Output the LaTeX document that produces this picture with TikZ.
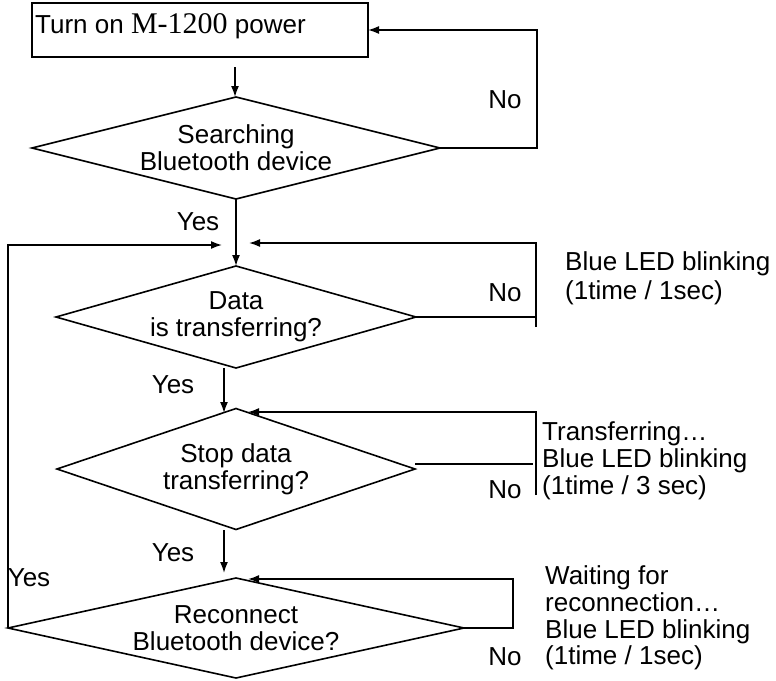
\documentclass[tikz,border=0pt]{standalone}
\usepackage{fontspec}
\setmainfont{Liberation Sans}
\newfontfamily\seriffont{Liberation Serif}
\usetikzlibrary{shapes.geometric,arrows.meta,calc}
\begin{document}
\begin{tikzpicture}[x=1pt,y=-1pt,
  lw/.style={line width=1.6pt},
  arr/.style={lw,-{Latex[length=11pt,width=8pt]}},
  dia/.style={diamond,draw,lw,inner sep=0pt,outer sep=0pt,align=center,font=\fontsize{26}{27}\selectfont},
  lbl/.style={inner sep=0pt,font=\fontsize{26}{27}\selectfont},
  side/.style={inner sep=0pt,anchor=west,align=left,font=\fontsize{26}{28}\selectfont}]
\useasboundingbox (0,0) rectangle (776,680);
% start box
\node[draw,lw,minimum width=336pt,minimum height=54pt,inner sep=0pt,outer sep=0pt] (box) at (200,30) {};
\node[lbl,anchor=base west] (boxtxt) at (35,33) {Turn on {\seriffont\fontsize{30}{30}\selectfont M-1200} power};
% decisions
\node[dia,aspect=4,minimum width=408pt,minimum height=102pt] (d1) at (236,148) {Searching\\Bluetooth device};
\node[dia,aspect=3.53,minimum width=360pt,minimum height=102pt] (d2) at (236,317) {Data\\is transferring?};
\node[dia,aspect=2.96,minimum width=358pt,minimum height=121pt] (d3) at (236,469) {Stop data\\transferring?};
\node[dia,aspect=4.56,minimum width=456pt,minimum height=100pt] (d4) at (236,628) {Reconnect\\Bluetooth device?};
% coordinates
\coordinate (a1) at (235,67);
\coordinate (r1) at (537,148);
\coordinate (l4) at (8,245);
\coordinate (tipL) at (222,245);
\coordinate (r2t) at (536,243);
\coordinate (r2e) at (536,327);
\coordinate (tip2) at (249,243);
\coordinate (s2) at (224,368);
\coordinate (e3) at (224,413);
\coordinate (r3t) at (536,412);
\coordinate (r3b) at (536,495);
\coordinate (tip3) at (248,412);
\coordinate (s3) at (224,530);
\coordinate (e4) at (224,573);
\coordinate (r4) at (513,628);
\coordinate (r4t) at (513,579);
\coordinate (tip4) at (248,579);
% connectors
\draw[arr] (a1) -- (a1 |- d1.north);
\draw[arr] (d1.east) -- (r1) |- (box.east);
\draw[arr] (d1.south) -- (d2.north);
\draw[arr] (d4.west) -- (l4) -- (tipL);
\draw[lw] (d2.east) -- (d2.east -| r2t);
\draw[arr] (r2e) -- (r2t) -- (tip2);
\draw[arr] (s2) -- (e3);
\draw[lw] ($(d3.east)+(0,-5)$) -- ($(d3.east -| r3t)+(-3,-5)$);
\draw[arr] (r3b) -- (r3t) -- (tip3);
\draw[arr] (s3) -- (e4);
\draw[arr] (d4.east) -- (r4) -- (r4t) -- (tip4);
% labels
\node[lbl] (no1) at (505,100) {No};
\node[lbl] (no2) at (505,293) {No};
\node[lbl] (no3) at (505,490) {No};
\node[lbl] (no4) at (505,657) {No};
\node[lbl] (yes1) at (198,222) {Yes};
\node[lbl] (yes2) at (173,385) {Yes};
\node[lbl] (yes3) at (173,553) {Yes};
\node[lbl] (yes4) at (29,578) {Yes};
\node[side,font=\fontsize{26}{29}\selectfont] (s1txt) at (565,278) {Blue LED blinking\\(1time / 1sec)};
\node[side,font=\fontsize{26}{27}\selectfont] (s2txt) at (542,461) {Transferring\ldots\\Blue LED blinking\\(1time / 3 sec)};
\node[side,font=\fontsize{26}{26.7}\selectfont] (s3txt) at (545,618) {Waiting for\\reconnection\ldots\\Blue LED blinking\\(1time / 1sec)};
\end{tikzpicture}
\end{document}
